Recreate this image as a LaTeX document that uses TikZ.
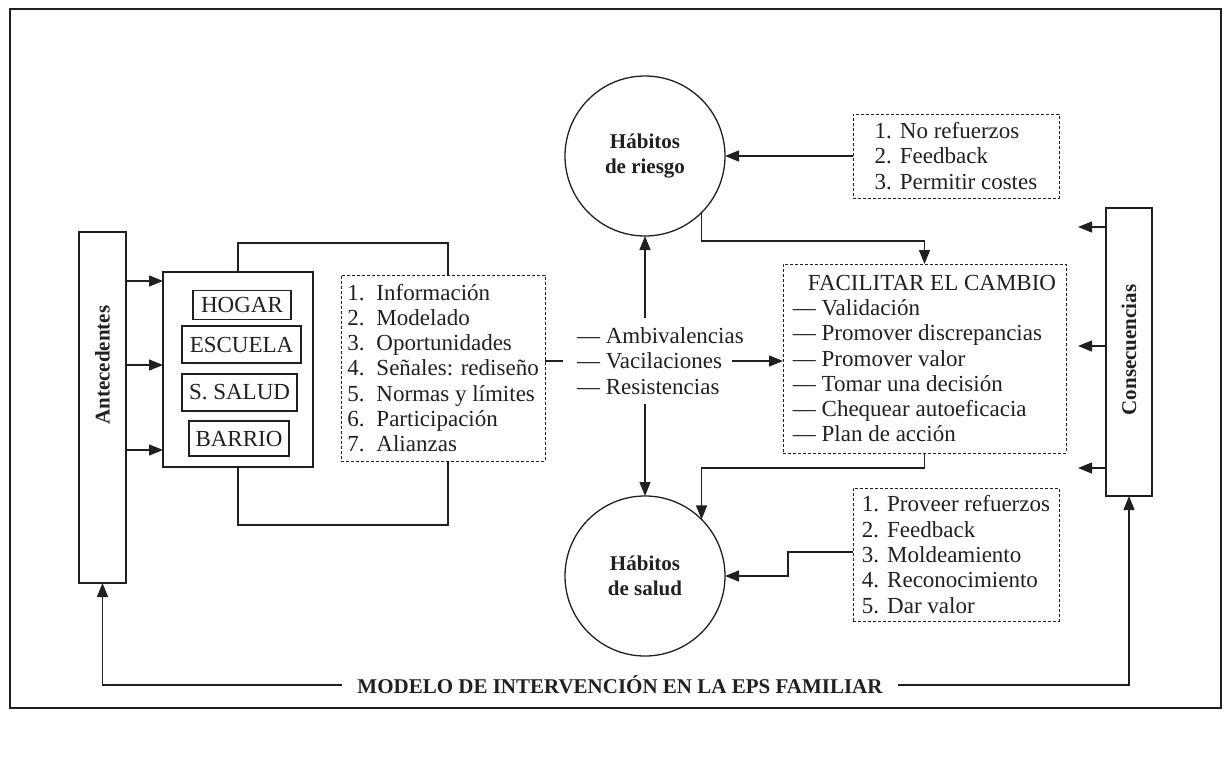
\documentclass[tikz,border=0pt]{standalone}
\usepackage{fontspec}
\setmainfont{Liberation Serif}
\usetikzlibrary{arrows.meta}
\definecolor{ink}{RGB}{35,31,32}
\newcommand\dgtxt{\fontsize{23}{25.3}\selectfont}
\newcommand\dgbold{\fontsize{21}{25}\selectfont\bfseries}
\begin{document}
\begin{tikzpicture}[x=1pt,y=-1pt,
  every node/.style={inner sep=0pt, outer sep=0pt, text=ink},
  line/.style={draw=ink, line width=1.3pt},
  arr/.style={line, -{Triangle[length=14pt,width=11pt]}},
  box/.style={draw=ink, line width=1.3pt, rectangle, font=\dgtxt},
  dbox/.style={draw=ink, line width=1pt, dash pattern=on 3pt off 2pt,
    rectangle, align=left, font=\dgtxt},
  circ/.style={draw=ink, line width=1.3pt, circle, minimum size=160pt,
    align=center, font=\dgbold},
  vlabel/.style={rotate=90, font=\dgbold}]
\useasboundingbox (0,0) rectangle (1224,776);

% outer frame
\draw[ink, line width=2.6pt] (10,9) rectangle (1221,708);

% antecedents column and settings
\node[box, minimum width=47pt, minimum height=351pt] (ante) at (102.5,407.5) {};
\node[vlabel] (antelbl) at (102.5,365) {Antecedentes};
\node[box, minimum width=150pt, minimum height=195pt] (inner) at (238,369.5) {};
\node[box, minimum width=98pt, minimum height=28.5pt] (hogar) at (242,305) {HOGAR};
\node[box, minimum width=119pt, minimum height=37pt] (escuela) at (241.5,344.5) {ESCUELA};
\node[box, minimum width=115pt, minimum height=37pt] (ssalud) at (239.5,392.5) {S. SALUD};
\node[box, minimum width=100pt, minimum height=35pt] (barrio) at (239,438.5) {BARRIO};

% intervention list
\node[dbox, minimum width=204pt, minimum height=186pt] (acts) at (443,368)
  {1.\hspace{12pt}Información\\2.\hspace{12pt}Modelado\\3.\hspace{12pt}Oportunidades\\
   4.\hspace{12pt}Señales: rediseño\\5.\hspace{12pt}Normas y límites\\
   6.\hspace{12pt}Participación\\7.\hspace{12pt}Alianzas};

% ambivalence block
\node[align=left, anchor=west, font=\dgtxt] (amb) at (577,361)
  {— Ambivalencias\\— Vacilaciones\\— Resistencias};
\coordinate (ambtop) at (645,318);
\coordinate (ambbot) at (645,404);

% habit circles
\node[circ] (riesgo) at (645,156) {Hábitos\\de riesgo};
\node[circ] (salud) at (645,576) {Hábitos\\de salud};

% right hand lists
\node[dbox, minimum width=206pt, minimum height=84pt] (riskbox) at (956,156)
  {1.\hspace{8pt}No refuerzos\\2.\hspace{8pt}Feedback\\3.\hspace{8pt}Permitir costes};
\node[dbox, minimum width=283pt, minimum height=189pt] (fac) at (924.5,358.5)
  {\hspace*{15pt}FACILITAR EL CAMBIO\\— Validación\\— Promover discrepancias\\
   — Promover valor\\— Tomar una decisión\\— Chequear autoeficacia\\— Plan de acción};
\node[dbox, minimum width=206pt, minimum height=133pt] (healthbox) at (956,554.5)
  {1.\hspace{8pt}Proveer refuerzos\\2.\hspace{8pt}Feedback\\3.\hspace{8pt}Moldeamiento\\
   4.\hspace{8pt}Reconocimiento\\5.\hspace{8pt}Dar valor};

% consequences column
\node[box, minimum width=46pt, minimum height=288pt] (cons) at (1129,352) {};
\node[vlabel] (conslbl) at (1129,350) {Consecuencias};

% title along the bottom
\node[font=\dgbold, inner xsep=15pt] (title) at (620,685)
  {MODELO DE INTERVENCIÓN EN LA EPS FAMILIAR};

% connectors
\draw[arr] ([yshift=-9pt]inner.north west -| ante.east) -- ([yshift=-9pt]inner.north west);
\draw[arr] ([yshift=4.5pt]inner.west -| ante.east) -- ([yshift=4.5pt]inner.west);
\draw[arr] ([yshift=17pt]inner.south west -| ante.east) -- ([yshift=17pt]inner.south west);
\draw[line] (inner.north) -- ++(0,-29) -| ([xshift=5pt]acts.north);
\draw[line] (inner.south) -- ++(0,58) -| ([xshift=5pt]acts.south);
\draw[line] (acts.east |- amb) -- ++(18,0);
\draw[arr] ([xshift=-51pt]fac.west |- amb) -- (fac.west |- amb);
\draw[arr] (ambtop) -- (riesgo.south);
\draw[arr] (ambbot) -- (salud.north);
\draw[arr] (riskbox.west) -- (riesgo.east);
\draw[arr] (riesgo.-45) |- ([yshift=23pt]fac.north) -- (fac.north);
\draw[arr] (fac.south) -- ++(0,15) -| (salud.45);
\draw[arr] ([yshift=2.5pt]healthbox.west) -- ++(-65,0) |- (salud.east);
\draw[arr] ([yshift=-19pt]cons.north west) -- ++(-28,0);
\draw[arr] ([yshift=6pt]cons.west) -- ++(-28,0);
\draw[arr] ([yshift=28pt]cons.south west) -- ++(-28,0);
\draw[arr] (title.west) -| (ante.south);
\draw[arr] (title.east) -| (cons.south);
\end{tikzpicture}
\end{document}
